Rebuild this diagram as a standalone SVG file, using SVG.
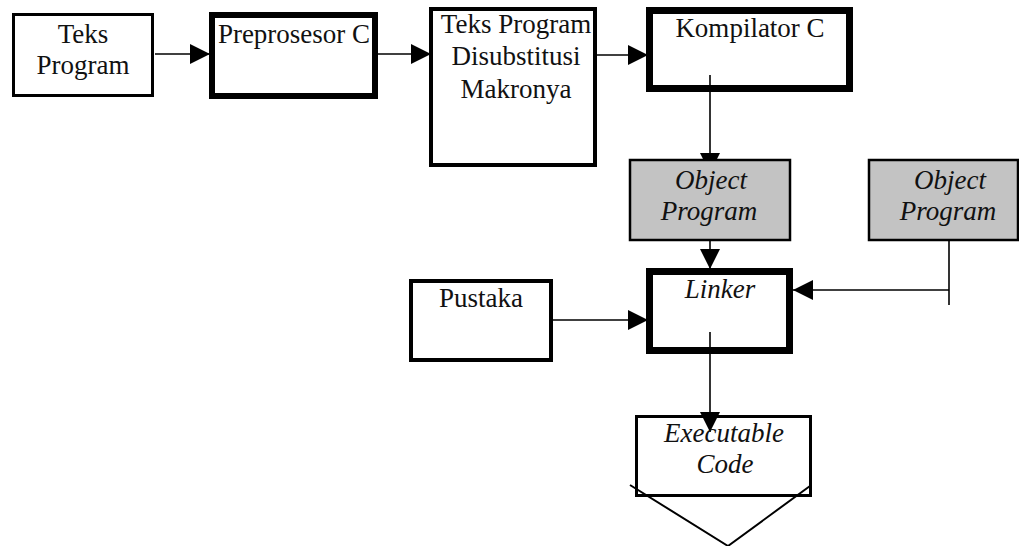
<svg xmlns="http://www.w3.org/2000/svg" width="1019" height="546" viewBox="0 0 1019 546">
  <style>
    .lbl { font-family: "Liberation Serif", "Times New Roman", serif; font-size: 27px; fill: #111; text-anchor: middle; }
    .it { font-style: italic; }
    .box { fill: none; stroke: #000; }
    .gray { fill: #c3c3c3; stroke: #000; stroke-width: 2.5; }
    .conn { fill: none; stroke: #000; stroke-width: 1.6; }
  </style>
  <defs>
    <marker id="arrow" markerWidth="20" markerHeight="20" refX="20" refY="10" orient="auto" markerUnits="userSpaceOnUse">
      <path d="M0,0 L20,10 L0,20 Z" fill="#000"/>
    </marker>
  </defs>
  <rect width="1019" height="546" fill="#fff"/>

  <!-- connectors -->
  <g id="connectors">
    <line class="conn" x1="155" y1="54" x2="210" y2="54" marker-end="url(#arrow)"/>
    <line class="conn" x1="378" y1="54" x2="431" y2="54" marker-end="url(#arrow)"/>
    <line class="conn" x1="597" y1="55" x2="648" y2="55" marker-end="url(#arrow)"/>
    <line class="conn" x1="710" y1="75" x2="710" y2="173" marker-end="url(#arrow)"/>
    <line class="conn" x1="710" y1="241" x2="710" y2="269" marker-end="url(#arrow)"/>
    <line class="conn" x1="949" y1="241" x2="949" y2="305"/>
    <line class="conn" x1="949" y1="290" x2="793" y2="290" marker-end="url(#arrow)"/>
    <line class="conn" x1="553" y1="320" x2="648" y2="320" marker-end="url(#arrow)"/>
    <line class="conn" x1="710" y1="332" x2="710" y2="432" marker-end="url(#arrow)"/>
  </g>

  <g id="teks-program">
    <rect class="box" x="13.5" y="14.5" width="139" height="81" stroke-width="3"/>
    <text class="lbl" x="83" y="43">Teks</text>
    <text class="lbl" x="83" y="74">Program</text>
  </g>

  <g id="preprosesor">
    <rect class="box" x="212" y="15" width="163" height="81" stroke-width="6"/>
    <text class="lbl" x="294" y="43">Preprosesor C</text>
  </g>

  <g id="teks-disubstitusi">
    <rect class="box" x="431" y="9" width="164" height="156" stroke-width="4"/>
    <text class="lbl" x="516" y="33">Teks Program</text>
    <text class="lbl" x="516" y="65">Disubstitusi</text>
    <text class="lbl" x="516" y="98">Makronya</text>
  </g>

  <g id="kompilator">
    <rect class="box" x="649.5" y="10.5" width="200" height="78" stroke-width="7"/>
    <text class="lbl" x="750" y="37">Kompilator C</text>
  </g>

  <g id="object-program-1">
    <rect class="gray" x="630" y="160" width="160" height="80"/>
    <text class="lbl it" x="711" y="189">Object</text>
    <text class="lbl it" x="709" y="220">Program</text>
  </g>

  <g id="object-program-2">
    <rect class="gray" x="869" y="160" width="149" height="80"/>
    <text class="lbl it" x="950" y="189">Object</text>
    <text class="lbl it" x="948" y="220">Program</text>
  </g>

  <g id="pustaka">
    <rect class="box" x="411" y="281" width="140" height="79" stroke-width="4"/>
    <text class="lbl" x="481" y="307">Pustaka</text>
  </g>

  <g id="linker">
    <rect class="box" x="649.5" y="271.5" width="140" height="79" stroke-width="7"/>
    <text class="lbl it" x="720" y="298">Linker</text>
  </g>

  <g id="executable-code">
    <rect class="box" x="636.5" y="416.5" width="174" height="79" stroke-width="3"/>
    <text class="lbl it" x="724" y="442">Executable</text>
    <text class="lbl it" x="725" y="473">Code</text>
    <polyline fill="none" stroke="#000" stroke-width="2" points="630,485 728,546 810,486"/>
  </g>
</svg>
